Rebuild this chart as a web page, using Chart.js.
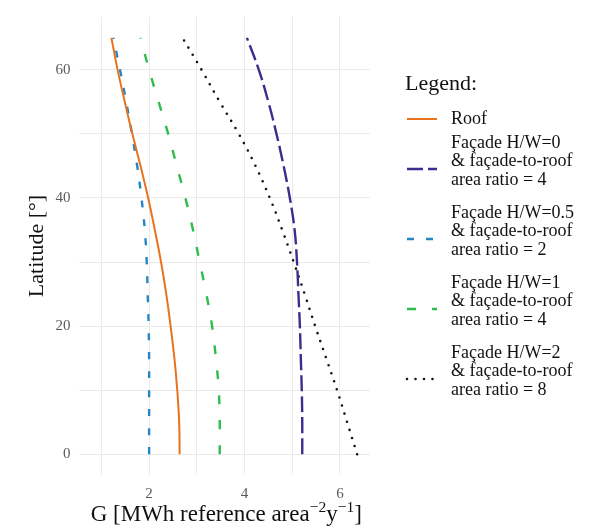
<!DOCTYPE html>
<html>
<head>
<meta charset="utf-8">
<script src="https://cdn.jsdelivr.net/npm/chart.js@4/dist/chart.umd.min.js"></script>
<style>
  html, body { margin: 0; padding: 0; background: #ffffff; }
  canvas { display: block; }
</style>
</head>
<body>
<canvas id="chart" width="596" height="531"></canvas>
<script>
// Latitude [°] at which each series is sampled
const latitude = [0, 5, 10, 15, 20, 25, 30, 35, 40, 45, 50, 55, 60, 65];

// G [MWh reference area^-2 y^-1] per series, one value per latitude above
const roofG     = [2.64, 2.63, 2.59, 2.53, 2.45, 2.36, 2.25, 2.12, 1.98, 1.82, 1.65, 1.49, 1.34, 1.21];
const facadeHW0 = [5.21, 5.21, 5.20, 5.18, 5.16, 5.13, 5.10, 5.05, 4.95, 4.82, 4.67, 4.50, 4.30, 4.05];
const facadeHW05 = [2.00, 2.00, 2.00, 2.00, 1.99, 1.97, 1.95, 1.91, 1.84, 1.75, 1.64, 1.52, 1.39, 1.25];
const facadeHW1 = [3.48, 3.48, 3.46, 3.40, 3.32, 3.20, 3.06, 2.92, 2.76, 2.58, 2.40, 2.20, 2.00, 1.82];
const facadeHW2 = [6.36, 6.15, 5.94, 5.71, 5.48, 5.26, 5.03, 4.79, 4.53, 4.23, 3.88, 3.48, 3.10, 2.70];

// Legend entries (one array of lines per series)
const roofLabel  = ['Roof'];
const hw0Label   = ['Façade H/W=0', '& façade-to-roof', 'area ratio = 4'];
const hw05Label  = ['Façade H/W=0.5', '& façade-to-roof', 'area ratio = 2'];
const hw1Label   = ['Façade H/W=1', '& façade-to-roof', 'area ratio = 4'];
const hw2Label   = ['Façade H/W=2', '& façade-to-roof', 'area ratio = 8'];
const legendTitle = 'Legend:';

// Axis ticks
const xTickValues = [1, 2, 3, 4, 5, 6];
const xTickLabels = ['', '2', '', '4', '', '6'];
const yTickValues = [0, 10, 20, 30, 40, 50, 60];
const yTickLabels = ['0', '', '20', '', '40', '', '60'];

const yTitle = 'Latitude [°]';

const SERIF = '"Liberation Serif", "Times New Roman", "DejaVu Serif", serif';

function toPoints(values) {
  return values.map((g, i) => ({ x: g, y: latitude[i] }));
}

const datasets = [
  { label: roofLabel, data: toPoints(roofG), borderColor: '#e8731e', borderWidth: 2, borderDash: [] },
  { label: hw0Label, data: toPoints(facadeHW0), borderColor: '#3d2c8e', borderWidth: 2.4, borderDash: [16, 5] },
  { label: hw05Label, data: toPoints(facadeHW05), borderColor: '#2586c4', borderWidth: 2.4, borderDash: [7, 12] },
  { label: hw1Label, data: toPoints(facadeHW1), borderColor: '#2ebd4c', borderWidth: 2.4, borderDash: [9, 16] },
  { label: hw2Label, data: toPoints(facadeHW2), borderColor: '#141414', borderWidth: 2.6, borderDash: [0, 8.5], borderCapStyle: 'round' }
].map(d => Object.assign({ showLine: true, pointRadius: 0, pointHoverRadius: 0, tension: 0.4, fill: false }, d));

// Axis titles drawn with real superscripts
const axisTitles = {
  id: 'axisTitles',
  afterDraw(chart) {
    const ctx = chart.ctx;
    const area = chart.chartArea;
    ctx.save();
    ctx.fillStyle = '#111111';
    ctx.textBaseline = 'alphabetic';
    // x title: G [MWh reference area^-2 y^-1]
    const big = '23px ' + SERIF, small = '15.5px ' + SERIF;
    const parts = [
      { t: 'G [MWh reference area', f: big, dy: 0 },
      { t: '\u22122', f: small, dy: -9 },
      { t: 'y', f: big, dy: 0 },
      { t: '\u22121', f: small, dy: -9 },
      { t: ']', f: big, dy: 0 }
    ];
    let total = 0;
    parts.forEach(p => { ctx.font = p.f; p.w = ctx.measureText(p.t).width; total += p.w; });
    let x = (area.left + area.right) / 2 + 2 - total / 2;
    const base = 521;
    ctx.textAlign = 'left';
    parts.forEach(p => { ctx.font = p.f; ctx.fillText(p.t, x, base + p.dy); x += p.w; });
    // y title
    ctx.translate(43, (area.top + area.bottom) / 2);
    ctx.rotate(-Math.PI / 2);
    ctx.font = '22px ' + SERIF;
    ctx.textAlign = 'center';
    ctx.fillText(yTitle, 0, 0);
    ctx.restore();
  }
};

// Legend at right with multi-line labels, keys use each dataset's stroke style
const sideLegend = {
  id: 'sideLegend',
  afterDraw(chart) {
    const ctx = chart.ctx;
    ctx.save();
    ctx.fillStyle = '#111111';
    ctx.textAlign = 'left';
    ctx.textBaseline = 'alphabetic';
    ctx.font = '22px ' + SERIF;
    ctx.fillText(legendTitle, 405, 90);
    ctx.font = '18px ' + SERIF;
    ctx.textBaseline = 'middle';
    const lineH = 18.5;
    const firstLineY = [119, 143, 213, 283, 353];
    chart.data.datasets.forEach((ds, i) => {
      const lines = ds.label;
      const y0 = firstLineY[i];
      lines.forEach((ln, j) => ctx.fillText(ln, 451, y0 + j * lineH));
      const keyY = lines.length > 1 ? y0 + 26 : y0;
      ctx.save();
      ctx.strokeStyle = ds.borderColor;
      ctx.lineWidth = ds.borderWidth;
      ctx.lineCap = ds.borderCapStyle || 'butt';
      ctx.setLineDash(ds.borderDash || []);
      ctx.beginPath();
      ctx.moveTo(407, keyY);
      ctx.lineTo(437, keyY);
      ctx.stroke();
      ctx.restore();
    });
    ctx.restore();
  }
};

new Chart(document.getElementById('chart'), {
  type: 'scatter',
  data: { datasets },
  options: {
    responsive: false,
    animation: false,
    devicePixelRatio: 1,
    layout: { padding: { top: 8, right: 226, left: 0, bottom: 0 } },
    plugins: { legend: { display: false }, tooltip: { enabled: false } },
    scales: {
      x: {
        type: 'linear',
        min: 0.52,
        max: 6.63,
        border: { display: false },
        grid: { color: '#ebebeb', lineWidth: 1, drawTicks: false },
        afterBuildTicks(scale) { scale.ticks = xTickValues.map(v => ({ value: v })); },
        afterFit(scale) { scale.height = 56; },
        ticks: {
          padding: 10,
          color: '#5a5a5a',
          font: { family: SERIF, size: 15 },
          callback(value) { const i = xTickValues.indexOf(value); return i >= 0 ? xTickLabels[i] : ''; }
        }
      },
      y: {
        type: 'linear',
        min: -3.25,
        max: 68.25,
        border: { display: false },
        grid: { color: '#ebebeb', lineWidth: 1, drawTicks: false },
        afterBuildTicks(scale) { scale.ticks = yTickValues.map(v => ({ value: v })); },
        afterFit(scale) { scale.width = 78.5; },
        ticks: {
          padding: 8,
          color: '#5a5a5a',
          font: { family: SERIF, size: 15 },
          callback(value) { const i = yTickValues.indexOf(value); return i >= 0 ? yTickLabels[i] : ''; }
        }
      }
    }
  },
  plugins: [axisTitles, sideLegend]
});
</script>
</body>
</html>
